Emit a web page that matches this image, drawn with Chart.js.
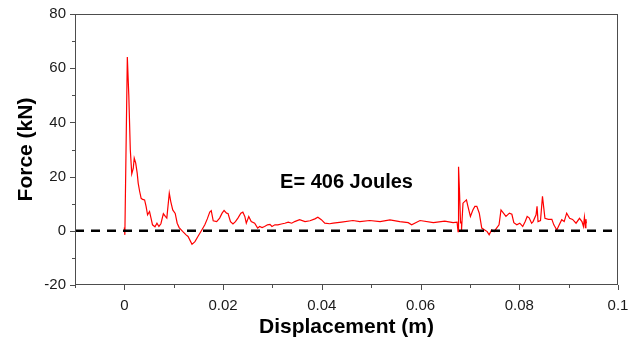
<!DOCTYPE html>
<html>
<head>
<meta charset="utf-8">
<script src="https://cdn.jsdelivr.net/npm/chart.js@4/dist/chart.umd.min.js"></script>
<style>
  html, body { margin: 0; padding: 0; background: #fff; }
  #wrap { width: 640px; height: 343px; }
</style>
</head>
<body>
<div id="wrap"><canvas id="impact_chart"></canvas></div>
<script>
// displacement (m) and force (kN)
var disp_m = [0.0000, 0.0001, 0.0006, 0.0009, 0.0012, 0.0015, 0.0018, 0.0020, 0.0023, 0.0026,
  0.0028, 0.0031, 0.0034, 0.0037, 0.0041, 0.0044, 0.0047, 0.0051, 0.0054, 0.0057,
  0.0062, 0.0066, 0.0070, 0.0074, 0.0079, 0.0083, 0.0086, 0.0091, 0.0094, 0.0098,
  0.0103, 0.0107, 0.0111, 0.0118, 0.0125, 0.0129, 0.0137, 0.0143, 0.0149, 0.0156,
  0.0163, 0.0168, 0.0173, 0.0176, 0.0180, 0.0187, 0.0193, 0.0198, 0.0202, 0.0207,
  0.0210, 0.0215, 0.0220, 0.0225, 0.0230, 0.0236, 0.0240, 0.0244, 0.0247, 0.0252,
  0.0257, 0.0264, 0.0270, 0.0274, 0.0279, 0.0284, 0.0290, 0.0295, 0.0299, 0.0305,
  0.0311, 0.0318, 0.0325, 0.0332, 0.0339, 0.0345, 0.0355, 0.0366, 0.0376, 0.0386,
  0.0392, 0.0399, 0.0406, 0.0416, 0.0423, 0.0440, 0.0463, 0.0477, 0.0497, 0.0518,
  0.0538, 0.0558, 0.0575, 0.0582, 0.0599, 0.0626, 0.0649, 0.0666, 0.0674, 0.0676,
  0.0677, 0.0679, 0.0681, 0.0683, 0.0683, 0.0686, 0.0693, 0.0696, 0.0701, 0.0706,
  0.0710, 0.0714, 0.0719, 0.0724, 0.0730, 0.0735, 0.0739, 0.0744, 0.0749, 0.0754,
  0.0759, 0.0763, 0.0768, 0.0773, 0.0780, 0.0785, 0.0789, 0.0795, 0.0801, 0.0807,
  0.0812, 0.0816, 0.0820, 0.0825, 0.0828, 0.0834, 0.0836, 0.0838, 0.0843, 0.0847,
  0.0852, 0.0859, 0.0866, 0.0870, 0.0876, 0.0881, 0.0886, 0.0891, 0.0896, 0.0902,
  0.0908, 0.0915, 0.0922, 0.0927, 0.0930, 0.0932, 0.0934, 0.0935, 0.0936];
var force_kN = [1.2, -1.5, 64.1, 50, 30, 21, 23, 26.8, 25, 21.3,
  17.6, 14.5, 12, 11.6, 11.4, 9, 5.9, 7.1, 4.7, 2.2,
  1.5, 2.8, 1.6, 2.6, 6.3, 5.3, 4.7, 13.9, 10.8, 7.7,
  6.4, 2.8, 1.2, -0.2, -1.5, -2.1, -5, -4, -2.1, 0,
  2.2, 4.4, 6.9, 7.4, 3.7, 3.4, 4.7, 6.5, 7.5, 6.5,
  6.4, 3.4, 2.5, 3.4, 4.7, 6.5, 6.9, 5.3, 2.8, 5.3,
  3.4, 2.8, 1.0, 1.6, 1.2, 1.6, 2.2, 2.4, 1.6, 2.2,
  2.2, 2.5, 2.8, 3.2, 2.8, 3.4, 4.1, 3.4, 3.7, 4.4,
  5.0, 4.1, 2.8, 2.6, 2.8, 3.2, 3.8, 3.4, 3.8, 3.4,
  4.0, 3.4, 3.0, 2.2, 3.8, 3.0, 3.6, 3.0, 3.2, -0.3,
  23.6, 14, 3.0, 3.2, 0.2, 10.2, 11.4, 9, 5.3, 7.7,
  9.0, 9.0, 6.5, 1.0, 0.3, -0.3, -1.5, 0.3, -0.3, 1.0,
  2.2, 7.7, 6.5, 5.3, 6.5, 6.1, 3.0, 2.2, 2.8, 1.6,
  3.4, 5.3, 4.8, 2.8, 3.4, 5.9, 9.0, 3.4, 3.8, 12.7,
  4.6, 4.2, 4.2, 2.2, 0.3, 2.2, 4.1, 3.4, 6.5, 4.6,
  4.2, 2.8, 4.6, 3.4, 1.6, 5.0, 1.2, 4.3, 2.8];

// dashed reference line at zero force
var zero_x = [-0.01, 0.1];
var zero_y = [0, 0];

var x_min = -0.01, x_max = 0.1, x_step = 0.01;
var y_min = -20, y_max = 80, y_step = 10;
var energy_label = "E= 406 Joules";

function to_points(xs, ys) {
  var pts = [];
  for (var i = 0; i < xs.length; i++) pts.push({x: xs[i], y: ys[i]});
  return pts;
}

// frame, outward tick marks (long major, short minor) and the energy note
const framePlugin = {
  id: 'frame',
  afterDraw(chart) {
    const c = chart.ctx, a = chart.chartArea;
    const xs = chart.scales.x, ys = chart.scales.y;
    c.save();
    c.strokeStyle = '#4d4d4d';
    c.lineWidth = 1;
    c.strokeRect(a.left + 0.5, a.top + 0.5, a.right - a.left - 1, a.bottom - a.top - 1);
    c.beginPath();
    xs.ticks.forEach(t => {
      const px = Math.round(xs.getPixelForValue(t.value)) + 0.5;
      const major = Math.round(t.value * 100) % 2 === 0;
      c.moveTo(px, a.bottom);
      c.lineTo(px, a.bottom + (major ? 5 : 3));
    });
    ys.ticks.forEach(t => {
      const py = Math.round(ys.getPixelForValue(t.value)) + 0.5;
      const major = Math.round(t.value) % 20 === 0;
      c.moveTo(a.left, py);
      c.lineTo(a.left - (major ? 5 : 3), py);
    });
    c.stroke();
    c.fillStyle = '#000';
    c.font = 'bold 20px "Liberation Sans", Arial, sans-serif';
    c.textAlign = 'center';
    c.textBaseline = 'middle';
    c.fillText(energy_label, xs.getPixelForValue(0.045), ys.getPixelForValue(17.8));
    c.restore();
  }
};

const ctx = document.getElementById("impact_chart").getContext("2d");
new Chart(ctx, {
  type: 'scatter',
  data: {
    datasets: [{
      data: to_points(zero_x, zero_y),
      showLine: true,
      borderColor: '#000',
      borderWidth: 2.5,
      borderDash: [9, 7],
      pointRadius: 0
    }, {
      data: to_points(disp_m, force_kN),
      showLine: true,
      borderColor: '#ff0000',
      borderWidth: 1.2,
      pointRadius: 0,
      tension: 0
    }]
  },
  options: {
    responsive: true,
    maintainAspectRatio: false,
    animation: false,
    layout: { padding: { left: 0, top: 14, right: 22, bottom: 0 } },
    plugins: { legend: { display: false }, tooltip: { enabled: false } },
    scales: {
      x: {
        type: 'linear',
        min: x_min, max: x_max,
        grid: { display: false, drawTicks: true, tickLength: 5 },
        border: { display: false },
        ticks: {
          stepSize: x_step,
          padding: 7,
          color: '#1a1a1a',
          font: { family: '"Liberation Sans", Arial, sans-serif', size: 15 },
          maxRotation: 0,
          autoSkip: false,
          callback: function (v) {
            if (Math.round(v * 100) % 2 !== 0) return '';
            return String(parseFloat(v.toFixed(2)));
          }
        },
        title: {
          display: true,
          text: 'Displacement (m)',
          color: '#000',
          font: { family: '"Liberation Sans", Arial, sans-serif', size: 21, weight: 'bold' },
          padding: { top: 0, bottom: 3 }
        },
        afterFit: function (s) { s.height = 58; }
      },
      y: {
        min: y_min, max: y_max,
        grid: { display: false, drawTicks: true, tickLength: 5 },
        border: { display: false },
        ticks: {
          stepSize: y_step,
          padding: 4,
          color: '#1a1a1a',
          font: { family: '"Liberation Sans", Arial, sans-serif', size: 15 },
          autoSkip: false,
          callback: function (v) {
            if (Math.round(v) % 20 !== 0) return '';
            return String(v);
          }
        },
        title: {
          display: true,
          text: 'Force (kN)',
          color: '#000',
          font: { family: '"Liberation Sans", Arial, sans-serif', size: 21, weight: 'bold' },
          padding: { top: 14, bottom: 0 }
        },
        afterFit: function (s) { s.width = 75; }
      }
    }
  },
  plugins: [framePlugin]
});
</script>
</body>
</html>
